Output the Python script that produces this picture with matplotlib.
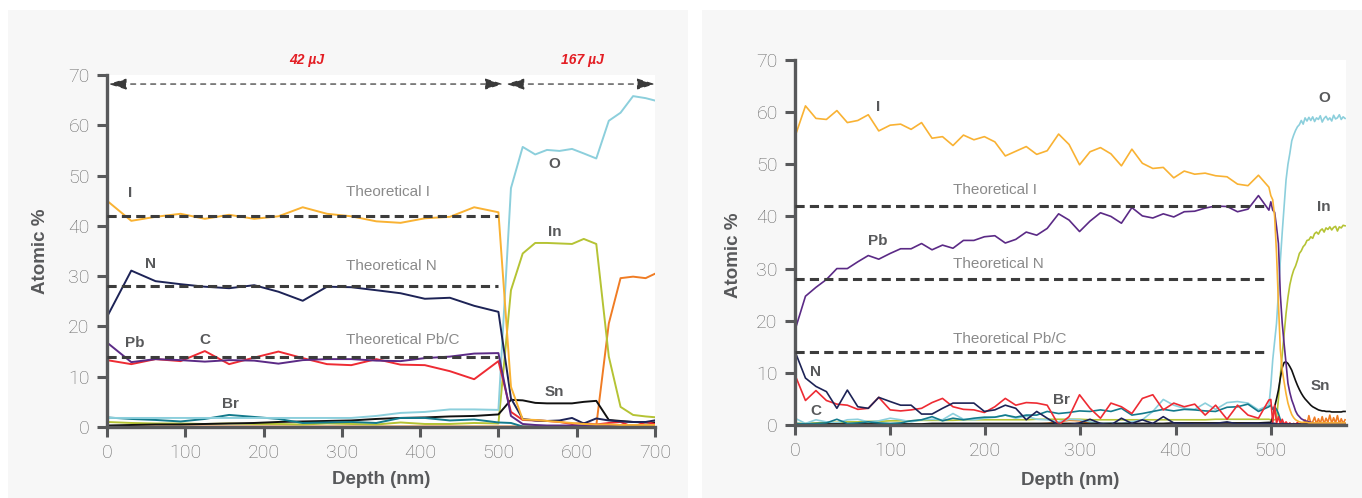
import numpy as np
import matplotlib
matplotlib.use('Agg')
import matplotlib.pyplot as plt
from matplotlib.patches import Rectangle

plt.rcParams['font.family'] = ['Liberation Sans', 'DejaVu Sans']

# DATA - left panel (42 uJ / 167 uJ)
##################################
left_depth = [0, 31, 62, 94, 125, 156, 188, 219, 250, 281, 312, 344, 375, 406,
              438, 469, 500, 516, 531, 547, 562, 578, 594, 609, 625, 641, 656,
              672, 688, 703]
left_I  = [45.0, 41.0, 41.8, 42.4, 41.4, 42.2, 41.4, 41.9, 43.7, 42.4, 41.9, 40.9,
           40.6, 41.5, 41.8, 43.7, 42.7, 8.0, 1.5, 1.4, 1.2, 1.0, 0.8, 0.6, 0.5,
           0.5, 0.4, 0.4, 0.4, 0.4]
left_N  = [21.9, 31.1, 29.0, 28.4, 27.9, 27.6, 28.2, 26.9, 25.1, 27.9, 27.8, 27.2,
           26.6, 25.5, 25.7, 24.1, 22.9, 5.7, 1.6, 1.3, 1.2, 1.3, 1.8, 0.7, 1.7,
           1.3, 1.1, 1.0, 1.0, 1.4]
left_Pb = [16.8, 12.9, 13.5, 13.3, 13.0, 13.3, 13.2, 12.6, 13.3, 13.5, 13.5, 13.2,
           13.1, 13.7, 14.0, 14.6, 14.7, 2.2, 0.6, 0.4, 0.3, 0.3, 0.3, 0.3, 0.3,
           0.3, 0.3, 0.3, 0.3, 0.3]
left_C  = [13.3, 12.5, 13.5, 13.1, 15.1, 12.5, 13.8, 15.0, 13.7, 12.5, 12.3, 13.5,
           12.4, 12.3, 11.1, 9.5, 13.1, 3.0, 1.4, 1.3, 1.2, 1.0, 0.6, 0.8, 0.5,
           0.8, 1.0, 0.0, 1.0, 0.5]
left_Br = [1.9, 1.6, 1.4, 1.1, 1.6, 2.4, 2.0, 1.6, 0.8, 0.9, 1.0, 0.8, 1.8, 1.8,
           1.3, 1.5, 0.9, 0.8, 0.1, 0.1, 0.1, 0.1, 0.1, 0.1, 0.1, 0.1, 0.1, 0.1,
           0.1, 0.1]
left_O  = [1.8, 1.8, 1.8, 1.8, 1.8, 1.8, 1.8, 1.8, 1.8, 1.8, 1.8, 2.2, 2.8, 3.0,
           3.5, 3.5, 3.4, 47.5, 55.7, 54.2, 55.1, 54.9, 55.3, 54.4, 53.4, 60.9,
           62.5, 65.8, 65.4, 64.8]
left_In = [1.0, 0.8, 0.7, 0.7, 0.6, 0.7, 0.6, 0.6, 0.5, 0.7, 0.6, 0.5, 0.9, 0.6,
           0.6, 0.8, 0.7, 27.2, 34.5, 36.6, 36.6, 36.5, 36.4, 37.4, 36.4, 14.0,
           4.0, 2.4, 2.1, 1.9]
left_Sn = [0.3, 0.4, 0.5, 0.5, 0.6, 0.7, 0.8, 1.0, 1.1, 1.2, 1.3, 1.6, 1.8, 1.9,
           2.1, 2.2, 2.5, 5.4, 5.3, 4.8, 4.7, 4.7, 4.7, 5.0, 5.2, 1.4, 1.2, 1.0,
           0.9, 0.9]
left_X  = [0.1, 0.1, 0.1, 0.1, 0.1, 0.1, 0.1, 0.1, 0.1, 0.1, 0.1, 0.1, 0.1, 0.1,
           0.1, 0.1, 0.1, 0.1, 0.1, 0.1, 0.1, 0.1, 0.1, 0.1, 0.3, 20.6, 29.6,
           29.9, 29.6, 30.7]

# DATA - right panel
##################################
right_depth = [0, 11, 22, 33, 44, 55, 66, 77, 88, 100, 111, 122, 133, 144, 155,
               166, 177, 188, 199, 210, 221, 232, 243, 254, 265, 277, 288, 299,
               310, 321, 332, 343, 354, 365, 376, 387, 398, 409, 420, 431, 442,
               454, 465, 476, 487, 498]
tail_depth = list(range(500, 580, 2))

right_I = [55.3, 61.2, 58.8, 58.6, 60.3, 58.0, 58.4, 59.5, 56.4, 57.5,
           57.7, 56.7, 58.0, 55.0, 55.3, 53.6, 55.6, 54.7, 55.3, 54.3,
           51.6, 52.5, 53.4, 51.9, 52.6, 55.8, 53.8, 49.9, 52.4, 53.2,
           52.0, 49.7, 52.9, 50.2, 49.2, 49.4, 47.4, 48.7, 48.1, 48.3,
           47.8, 47.6, 46.2, 45.9, 47.9, 45.6]
tail_I  = [44.0, 43.2, 40.0, 32.9, 23.3, 14.5, 10.5, 8.2, 6.0, 4.2,
           3.0, 2.0, 1.4, 1.0, 0.8, 0.6, 0.5, 0.5, 0.5, 0.5,
           0.4, 0.4, 0.4, 0.4, 0.4, 0.4, 0.4, 0.4, 0.4, 0.4,
           0.4, 0.4, 0.4, 0.4, 0.4, 0.4, 0.4, 0.4, 0.4, 0.4]
right_Pb = [18.2, 24.7, 26.4, 27.9, 30.0, 30.0, 31.3, 32.5, 31.8, 32.9,
            33.8, 33.8, 34.8, 33.6, 34.5, 33.9, 35.4, 35.4, 36.1, 36.3,
            34.9, 35.6, 37.0, 36.4, 37.7, 40.5, 39.3, 37.1, 39.1, 40.7,
            40.0, 38.7, 41.7, 40.1, 39.7, 40.5, 39.9, 40.9, 41.0, 41.6,
            42.0, 41.9, 40.9, 41.4, 44.0, 41.2]
tail_Pb  = [42.8, 41.2, 40.8, 38.0, 34.8, 25.0, 19.5, 15.5, 11.8, 8.0,
            6.2, 4.8, 3.8, 2.7, 2.0, 1.6, 1.2, 1.0, 0.8, 0.7,
            0.6, 0.5, 0.4, 0.3, 0.3, 0.3, 0.3, 0.3, 0.3, 0.3,
            0.3, 0.3, 0.3, 0.3, 0.3, 0.3, 0.3, 0.3, 0.3, 0.3]
right_N = [14.1, 9.0, 7.4, 6.4, 3.2, 6.7, 3.5, 3.2, 5.3, 4.5,
           3.8, 3.8, 2.1, 2.1, 3.2, 4.2, 4.2, 4.2, 2.6, 2.9,
           3.8, 3.2, 1.0, 2.6, 1.3, 0.0, 0.0, 0.4, 1.1, 0.3,
           0.0, 1.3, 0.3, 1.0, 0.3, 1.6, 0.4, 0.3, 0.2, 0.2,
           0.3, 0.6, 0.2, 0.3, 0.3, 0.3]
tail_N  = [0.3, 0.3, 0.3, 0.2, 0.2, 0.2, 0.2, 0.2, 0.2, 0.2,
           0.2, 0.2, 0.2, 0.2, 0.2, 0.2, 0.2, 0.2, 0.2, 0.2,
           0.2, 0.2, 0.2, 0.2, 0.2, 0.2, 0.2, 0.2, 0.2, 0.2,
           0.2, 0.2, 0.2, 0.2, 0.2, 0.2, 0.2, 0.2, 0.2, 0.2]
right_C = [9.6, 4.7, 6.6, 4.7, 4.0, 3.8, 3.0, 3.2, 5.3, 2.9,
           2.7, 2.9, 3.2, 4.3, 5.1, 3.5, 3.0, 2.9, 2.4, 3.5,
           5.1, 3.8, 4.3, 4.2, 3.8, 0.0, 1.6, 5.8, 3.2, 1.3,
           4.2, 3.5, 2.2, 5.1, 5.8, 2.9, 4.2, 3.5, 4.0, 1.9,
           3.8, 1.1, 3.8, 1.9, 1.3, 4.8]
tail_C  = [4.9, 0.4, 3.8, 0.3, 1.6, 0.2, 1.1, 0.1, 0.6, 0.1,
           0.4, 0.0, 0.3, 0.1, 0.5, 0.0, 0.2, 0.1, 0.4, 0.0,
           0.2, 0.3, 0.0, 0.2, 0.1, 0.3, 0.0, 0.2, 0.1, 0.3,
           0.0, 0.2, 0.1, 0.2, 0.0, 0.3, 0.1, 0.2, 0.0, 0.2]
right_Br = [0.3, 0.2, 0.3, 0.4, 1.1, 0.3, 0.4, 0.6, 0.4, 0.3,
            0.4, 0.8, 1.0, 1.6, 0.8, 1.3, 1.0, 1.3, 1.5, 1.5,
            1.9, 1.5, 1.9, 1.9, 2.6, 2.2, 2.4, 2.7, 2.6, 2.9,
            2.6, 3.2, 1.9, 2.2, 2.6, 3.0, 2.7, 3.0, 2.9, 2.7,
            2.6, 3.4, 3.5, 4.0, 2.6, 3.5]
tail_Br  = [3.8, 3.0, 3.5, 3.0, 2.2, 1.0, 0.4, 0.2, 0.1, 0.1,
            0.1, 0.1, 0.1, 0.1, 0.1, 0.1, 0.1, 0.1, 0.1, 0.1,
            0.1, 0.1, 0.1, 0.1, 0.1, 0.1, 0.1, 0.1, 0.1, 0.1,
            0.1, 0.1, 0.1, 0.1, 0.1, 0.1, 0.1, 0.1, 0.1, 0.1]
right_O = [1.3, 0.3, 1.0, 0.6, 0.4, 1.0, 1.1, 0.6, 0.8, 1.3,
           1.0, 0.6, 1.0, 1.1, 1.0, 2.2, 1.1, 1.0, 1.3, 1.5,
           1.9, 1.3, 1.7, 1.1, 1.0, 0.6, 1.1, 1.0, 0.6, 0.3,
           0.4, 0.3, 0.6, 1.0, 2.6, 4.9, 3.8, 3.2, 3.0, 4.2,
           3.0, 4.3, 4.5, 4.2, 2.9, 3.8]
tail_O  = [7.5, 12.5, 16.0, 19.5, 25.5, 31.5, 37.0, 42.0, 47.0, 50.0,
           52.1, 54.5, 55.6, 56.5, 57.2, 57.6, 58.4, 57.7, 58.9, 58.3,
           59.0, 58.4, 59.1, 58.2, 58.9, 58.6, 59.3, 58.1, 58.8, 59.2,
           58.5, 58.9, 58.3, 59.4, 58.7, 58.9, 59.5, 58.6, 59.1, 58.8]
right_In = [0.3, 0.3, 0.4, 0.5, 0.5, 0.6, 0.6, 0.7, 0.7, 0.8,
            0.8, 0.8, 0.9, 0.9, 0.9, 0.9, 1.0, 1.0, 1.0, 1.0,
            1.0, 1.0, 1.0, 1.1, 1.1, 1.1, 1.1, 1.1, 1.0, 1.0,
            1.0, 1.0, 1.0, 1.0, 1.0, 1.0, 1.0, 1.0, 1.0, 1.0,
            1.1, 1.1, 1.1, 1.1, 1.1, 1.1]
tail_In  = [1.0, 1.0, 1.0, 1.2, 5.0, 9.5, 13.5, 17.5, 21.4, 24.5,
            26.9, 28.5, 29.7, 30.5, 31.6, 32.9, 33.4, 34.2, 34.6, 35.4,
            35.5, 36.1, 35.8, 36.7, 37.0, 36.6, 37.3, 37.6, 37.0, 37.8,
            37.5, 38.0, 37.4, 37.9, 38.1, 37.2, 38.0, 37.8, 38.3, 38.2]
right_Sn = [0.1, 0.1, 0.1, 0.2, 0.2, 0.2, 0.2, 0.2, 0.2, 0.2,
            0.2, 0.2, 0.2, 0.3, 0.3, 0.3, 0.3, 0.3, 0.3, 0.3,
            0.3, 0.3, 0.3, 0.3, 0.3, 0.3, 0.3, 0.3, 0.3, 0.3,
            0.3, 0.3, 0.3, 0.3, 0.3, 0.3, 0.4, 0.4, 0.4, 0.4,
            0.4, 0.4, 0.4, 0.4, 0.4, 0.5]
tail_Sn  = [0.5, 1.5, 3.5, 5.0, 6.7, 9.0, 11.0, 12.0, 12.1, 11.8,
            11.2, 10.5, 9.5, 8.5, 7.6, 6.8, 6.1, 5.5, 5.0, 4.6,
            4.2, 3.8, 3.5, 3.3, 3.1, 2.9, 2.8, 2.7, 2.7, 2.6,
            2.6, 2.6, 2.5, 2.5, 2.5, 2.5, 2.5, 2.5, 2.6, 2.6]
right_X = [0.0, 0.1, 0.1, 0.1, 0.1, 0.1, 0.1, 0.1, 0.1, 0.1,
           0.1, 0.1, 0.1, 0.1, 0.1, 0.1, 0.1, 0.1, 0.1, 0.1,
           0.1, 0.1, 0.1, 0.2, 0.3, 0.6, 0.9, 0.8, 0.3, 0.1,
           0.1, 0.1, 0.1, 0.1, 0.1, 0.1, 0.1, 0.1, 0.1, 0.1,
           0.1, 0.1, 0.1, 0.1, 0.1, 0.1]
tail_X  = [0.1, 0.1, 0.1, 0.1, 0.1, 0.1, 0.1, 0.1, 0.1, 0.1,
           0.1, 0.1, 0.1, 0.1, 0.1, 0.1, 0.4, 0.1, 1.0, 0.2,
           1.8, 0.3, 0.6, 1.5, 0.2, 1.2, 0.3, 1.6, 0.2, 1.3,
           0.5, 1.9, 0.3, 1.4, 0.4, 1.8, 0.2, 1.2, 0.3, 1.0]

theory_vals  = [42, 28, 14]
theory_names = ['Theoretical I', 'Theoretical N', 'Theoretical Pb/C']
pulse_names  = ['42 \u00b5J', '167 \u00b5J']

# COLOURS
##################################
col = {'I': '#f9b233', 'N': '#1d2356', 'Pb': '#5b2a86', 'C': '#ee2b33',
       'Br': '#137a8c', 'O': '#8ccfdc', 'In': '#b5c334', 'Sn': '#111111',
       'X': '#f07c24'}
SPINE = '#58595b'


# function: styleAxes
# purpose:  spines, ticks and labels shared by both panels
def styleAxes(ax, xmax, xticks, ylab_x, ylab_y, xlab_y):
    ax.set_facecolor('white')
    ax.spines['top'].set_visible(False)
    ax.spines['right'].set_visible(False)
    for s in ['left', 'bottom']:
        ax.spines[s].set_linewidth(2.4)
        ax.spines[s].set_color(SPINE)
    ax.set_xlim(0, xmax)
    ax.set_ylim(0, 70)
    ax.set_xticks(xticks)
    ax.set_yticks(range(0, 71, 10))
    ax.tick_params(direction='out', length=7.5, width=2.2, color=SPINE,
                   labelcolor='#666666', labelsize=14, pad=5)
    for lab in ax.get_xticklabels() + ax.get_yticklabels():
        lab.set_fontfamily(['Roboto', 'DejaVu Sans'])
        lab.set_fontweight('light')
    ax.set_ylabel('Atomic %', fontsize=13.5, fontweight='bold', color='#58595b')
    ax.set_xlabel('Depth (nm)', fontsize=13.5, fontweight='bold', color='#58595b')
    ax.yaxis.set_label_coords(ylab_x, ylab_y)
    ax.xaxis.set_label_coords(0.5, xlab_y)


# function: theoryLines
# purpose:  dashed theoretical lines and their captions
def theoryLines(ax, xend, tx, ty):
    for v, name, y in zip(theory_vals, theory_names, ty):
        ax.plot([0, xend], [v, v], color='#3c3c3c', lw=2.2,
                linestyle=(0, (3, 1.7)), zorder=4)
        ax.text(tx, y, name, fontsize=11, color='#8a8a8a', ha='left',
                va='center')


def tag(ax, x, y, s):
    ax.text(x, y, s, fontsize=11, fontweight='bold', color='#58595b',
            ha='center', va='center')


# FIGURE
###################################
fig = plt.figure(figsize=(13.62, 4.98), dpi=100)
fig.add_artist(Rectangle((8 / 1362, 0), 680 / 1362, 488 / 498,
                         transform=fig.transFigure, facecolor='#f7f7f7',
                         edgecolor='none', zorder=-10))
fig.add_artist(Rectangle((702 / 1362, 0), 660 / 1362, 488 / 498,
                         transform=fig.transFigure, facecolor='#f7f7f7',
                         edgecolor='none', zorder=-10))

# left panel
ax1 = fig.add_axes([107 / 1362, 71 / 498, 548 / 1362, 352 / 498])
for key, vals in [('X', left_X), ('In', left_In), ('Sn', left_Sn),
                  ('Br', left_Br), ('O', left_O), ('C', left_C),
                  ('Pb', left_Pb), ('N', left_N), ('I', left_I)]:
    ax1.plot(left_depth, vals, color=col[key], lw=1.4)
theoryLines(ax1, 500, 305, [46.7, 32.0, 17.3])
styleAxes(ax1, 700, range(0, 701, 100), -0.105, 0.5, -0.125)

tag(ax1, 29, 46.5, 'I')
tag(ax1, 56, 32.4, 'N')
tag(ax1, 35, 16.8, 'Pb')
tag(ax1, 125, 17.4, 'C')
tag(ax1, 158, 4.6, 'Br')
tag(ax1, 572, 52.4, 'O')
tag(ax1, 572, 38.7, 'In')
tag(ax1, 572, 7.0, 'Sn')

# pulse energy arrows
arrow_y = 68.2
for x0, x1, xt, name in [(2, 506, 255, pulse_names[0]),
                         (510, 700, 607, pulse_names[1])]:
    ax1.annotate('', xy=(x1, arrow_y), xytext=(x0, arrow_y),
                 arrowprops=dict(arrowstyle='<|-|>,head_length=0.55,head_width=0.17',
                                 mutation_scale=20, color='#3a3a3a', lw=0.9,
                                 linestyle=(0, (4, 4)), shrinkA=0, shrinkB=0),
                 annotation_clip=False)
    ax1.text(xt, 1.043, name, transform=ax1.get_xaxis_transform(),
             fontsize=10, fontweight='bold', fontstyle='italic',
             color='#e31e24', ha='center', va='center')

# right panel
ax2 = fig.add_axes([795 / 1362, 73 / 498, 551 / 1362, 365 / 498])
rd = right_depth + tail_depth
for key, a, b in [('X', right_X, tail_X), ('In', right_In, tail_In),
                  ('O', right_O, tail_O), ('Sn', right_Sn, tail_Sn),
                  ('Br', right_Br, tail_Br), ('C', right_C, tail_C),
                  ('N', right_N, tail_N), ('Pb', right_Pb, tail_Pb),
                  ('I', right_I, tail_I)]:
    ax2.plot(rd, a + b, color=col[key], lw=1.2)
theoryLines(ax2, 497, 166, [45.1, 30.8, 16.5])
styleAxes(ax2, 579, range(0, 501, 100), -0.096, 0.466, -0.128)

tag(ax2, 87, 61.0, 'I')
tag(ax2, 87, 35.2, 'Pb')
tag(ax2, 22, 10.1, 'N')
tag(ax2, 22, 2.7, 'C')
tag(ax2, 280, 4.8, 'Br')
tag(ax2, 556, 62.7, 'O')
tag(ax2, 556, 41.8, 'In')
tag(ax2, 552, 7.5, 'Sn')

fig.savefig('out.png', dpi=100)
